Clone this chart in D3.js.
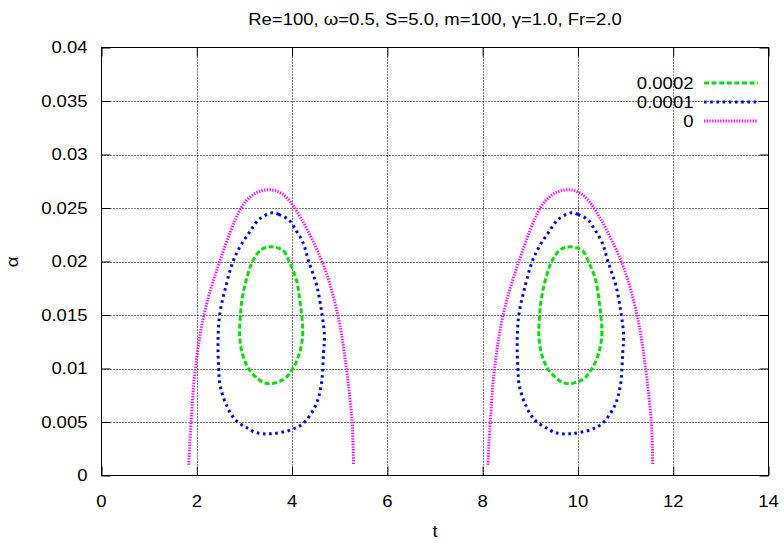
<!DOCTYPE html>
<html>
<head>
<meta charset="utf-8">
<script src="https://cdn.jsdelivr.net/npm/d3@7/dist/d3.min.js"></script>
<style>
  html, body { margin: 0; padding: 0; background: #fff; }
  svg { display: block; }
  text { font-family: "Liberation Sans", Arial, Helvetica, sans-serif; fill: #000; }
</style>
</head>
<body>
<svg id="chart" width="784" height="543"></svg>
<script>
// Neutral curves alpha(t) for three amplitude levels, two lobes each.
const titleText = "Re=100, \u03c9=0.5, S=5.0, m=100, \u03b3=1.0, Fr=2.0";
const xLabel = "t";
const yLabel = "\u03b1";
const xTicks = [0, 2, 4, 6, 8, 10, 12, 14];
const yTicks = [0, 0.005, 0.01, 0.015, 0.02, 0.025, 0.03, 0.035, 0.04];
const yTickLabels = ["0", "0.005", "0.01", "0.015", "0.02", "0.025", "0.03", "0.035", "0.04"];

// level 0 : open arcs [t, alpha]
const level0Lobe1 = [
  [1.83, 0.0010], [1.88, 0.0050], [1.97, 0.0100], [2.15, 0.0150], [2.48, 0.0200],
  [2.93, 0.0250], [3.14, 0.0261], [3.33, 0.02657], [3.56, 0.0267], [3.80, 0.0263],
  [4.04, 0.0251], [4.63, 0.0200], [4.96, 0.0150], [5.14, 0.0100], [5.26, 0.0050],
  [5.29, 0.0010]
];
const level0Lobe2 = [
  [8.11, 0.0010], [8.16, 0.0050], [8.25, 0.0100], [8.43, 0.0150], [8.76, 0.0200],
  [9.21, 0.0250], [9.42, 0.0261], [9.61, 0.02657], [9.84, 0.0267], [10.08, 0.0263],
  [10.32, 0.0251], [10.91, 0.0200], [11.24, 0.0150], [11.42, 0.0100], [11.54, 0.0050],
  [11.57, 0.0010]
];

// level 0.0001 : closed loops
const level1Lobe1 = [
  [3.58, 0.02455], [3.72, 0.0244], [3.93, 0.0239], [4.07, 0.0230], [4.23, 0.02175],
  [4.35, 0.0200], [4.52, 0.0177], [4.63, 0.0150], [4.68, 0.0130], [4.66, 0.0115],
  [4.61, 0.0084], [4.49, 0.0065], [4.24, 0.0049], [4.00, 0.0043], [3.56, 0.0039],
  [3.25, 0.0040], [3.05, 0.00446], [2.81, 0.0052], [2.63, 0.0065], [2.49, 0.0084],
  [2.46, 0.0100], [2.445, 0.0125], [2.48, 0.0150], [2.60, 0.0175], [2.76, 0.0200],
  [2.91, 0.0214], [3.10, 0.0227], [3.30, 0.0239]
];
const level1Lobe2 = [
  [9.86, 0.02455], [10.00, 0.0244], [10.21, 0.0239], [10.35, 0.0230], [10.51, 0.02175],
  [10.63, 0.0200], [10.80, 0.0177], [10.91, 0.0150], [10.96, 0.0130], [10.94, 0.0115],
  [10.89, 0.0084], [10.77, 0.0065], [10.52, 0.0049], [10.28, 0.0043], [9.84, 0.0039],
  [9.53, 0.0040], [9.33, 0.00446], [9.09, 0.0052], [8.91, 0.0065], [8.77, 0.0084],
  [8.74, 0.0100], [8.725, 0.0125], [8.76, 0.0150], [8.88, 0.0175], [9.04, 0.0200],
  [9.19, 0.0214], [9.38, 0.0227], [9.58, 0.0239]
];

// level 0.0002 : closed loops
const level2Lobe1 = [
  [3.58, 0.02137], [3.82, 0.0210], [3.94, 0.0200], [4.09, 0.0183], [4.16, 0.01645],
  [4.21, 0.0146], [4.22, 0.0130], [4.16, 0.0115], [4.03, 0.0101], [3.86, 0.0091],
  [3.68, 0.0087], [3.54, 0.00857], [3.40, 0.0087], [3.24, 0.0092], [3.07, 0.0101],
  [2.95, 0.0115], [2.90, 0.0130], [2.91, 0.0146], [2.95, 0.01645], [3.04, 0.0183],
  [3.17, 0.0200], [3.35, 0.0211]
];
const level2Lobe2 = [
  [9.86, 0.02137], [10.10, 0.0210], [10.22, 0.0200], [10.37, 0.0183], [10.44, 0.01645],
  [10.49, 0.0146], [10.50, 0.0130], [10.44, 0.0115], [10.31, 0.0101], [10.14, 0.0091],
  [9.96, 0.0087], [9.82, 0.00857], [9.68, 0.0087], [9.52, 0.0092], [9.35, 0.0101],
  [9.23, 0.0115], [9.18, 0.0130], [9.19, 0.0146], [9.23, 0.01645], [9.32, 0.0183],
  [9.45, 0.0200], [9.63, 0.0211]
];

const series = [
  { name: "0.0002", color: "#00e000", width: 3, dash: "5,2.6", closed: true, lobes: [level2Lobe1, level2Lobe2] },
  { name: "0.0001", color: "#0000ff", width: 3, dash: "2.6,3.6", closed: true, lobes: [level1Lobe1, level1Lobe2] },
  { name: "0", color: "#ff00ff", width: 3, dash: "1.3,1.4", closed: false, lobes: [level0Lobe1, level0Lobe2] }
];

const svg = d3.select("#chart");
const plot = { left: 101.5, right: 768.5, top: 47.5, bottom: 475.5 };
const fontSize = 17;
const stretch = 1.09; // glyphs are slightly wider than tall

const x = d3.scaleLinear().domain([0, 14]).range([plot.left, plot.right]);
const y = d3.scaleLinear().domain([0, 0.04]).range([plot.bottom, plot.top]);

// label helper: horizontally stretched text anchored at (px, py)
function label(parent, px, py, str, anchor, rotate) {
  const rot = rotate ? ` rotate(${rotate})` : "";
  return parent.append("text")
    .attr("transform", `translate(${px},${py})${rot} scale(${stretch},1)`)
    .attr("text-anchor", anchor)
    .attr("font-size", fontSize)
    .text(str);
}

// grid
const grid = svg.append("g").attr("stroke", "#000").attr("stroke-width", 1)
  .attr("stroke-dasharray", "1,2").attr("fill", "none");
xTicks.slice(1, -1).forEach(v => {
  grid.append("line").attr("x1", Math.round(x(v)) + 0.5).attr("x2", Math.round(x(v)) + 0.5)
    .attr("y1", plot.top).attr("y2", plot.bottom);
});
yTicks.slice(1, -1).forEach(v => {
  grid.append("line").attr("y1", Math.round(y(v)) + 0.5).attr("y2", Math.round(y(v)) + 0.5)
    .attr("x1", plot.left).attr("x2", plot.right);
});

// inward ticks on all four sides
const tickLen = 9;
const axes = [
  svg.append("g").attr("transform", `translate(0,${plot.bottom})`)
    .call(d3.axisBottom(x).tickValues(xTicks).tickSize(-tickLen).tickFormat("")),
  svg.append("g").attr("transform", `translate(0,${plot.top})`)
    .call(d3.axisTop(x).tickValues(xTicks).tickSize(-tickLen).tickFormat("")),
  svg.append("g").attr("transform", `translate(${plot.left},0)`)
    .call(d3.axisLeft(y).tickValues(yTicks).tickSize(-tickLen).tickFormat("")),
  svg.append("g").attr("transform", `translate(${plot.right},0)`)
    .call(d3.axisRight(y).tickValues(yTicks).tickSize(-tickLen).tickFormat(""))
];
axes.forEach(g => {
  g.select(".domain").remove();
  g.selectAll(".tick line").attr("stroke", "#000").attr("stroke-width", 1);
});

// tick labels
const tickLabels = svg.append("g");
xTicks.forEach(v => label(tickLabels, x(v), 506.5, String(v), "middle"));
yTicks.forEach((v, i) => label(tickLabels, 87.5, y(v) + 5.8, yTickLabels[i], "end"));

// border
svg.append("rect").attr("x", plot.left).attr("y", plot.top)
  .attr("width", plot.right - plot.left).attr("height", plot.bottom - plot.top)
  .attr("fill", "none").attr("stroke", "#000").attr("stroke-width", 1);

// curves
const openLine = d3.line().x(d => x(d[0])).y(d => y(d[1])).curve(d3.curveCatmullRom.alpha(0.5));
const closedLine = d3.line().x(d => x(d[0])).y(d => y(d[1])).curve(d3.curveCatmullRomClosed.alpha(0.5));

const curves = svg.append("g").attr("fill", "none");
series.slice().reverse().forEach(s => {
  s.lobes.forEach(lobe => {
    curves.append("path").datum(lobe)
      .attr("d", s.closed ? closedLine : openLine)
      .attr("stroke", s.color).attr("stroke-width", s.width)
      .attr("stroke-dasharray", s.dash);
  });
});

// legend
const legend = svg.append("g");
series.forEach((s, i) => {
  const ly = 83 + i * 19;
  label(legend, 693.5, ly + 6, s.name, "end");
  legend.append("line").attr("x1", 704).attr("x2", 758).attr("y1", ly).attr("y2", ly)
    .attr("stroke", s.color).attr("stroke-width", s.width).attr("stroke-dasharray", s.dash);
});

// title and axis labels
label(svg, 435, 25, titleText, "middle");
label(svg, 435, 536.5, xLabel, "middle");
label(svg, 18, 262, yLabel, "middle", -90);
</script>
</body>
</html>
